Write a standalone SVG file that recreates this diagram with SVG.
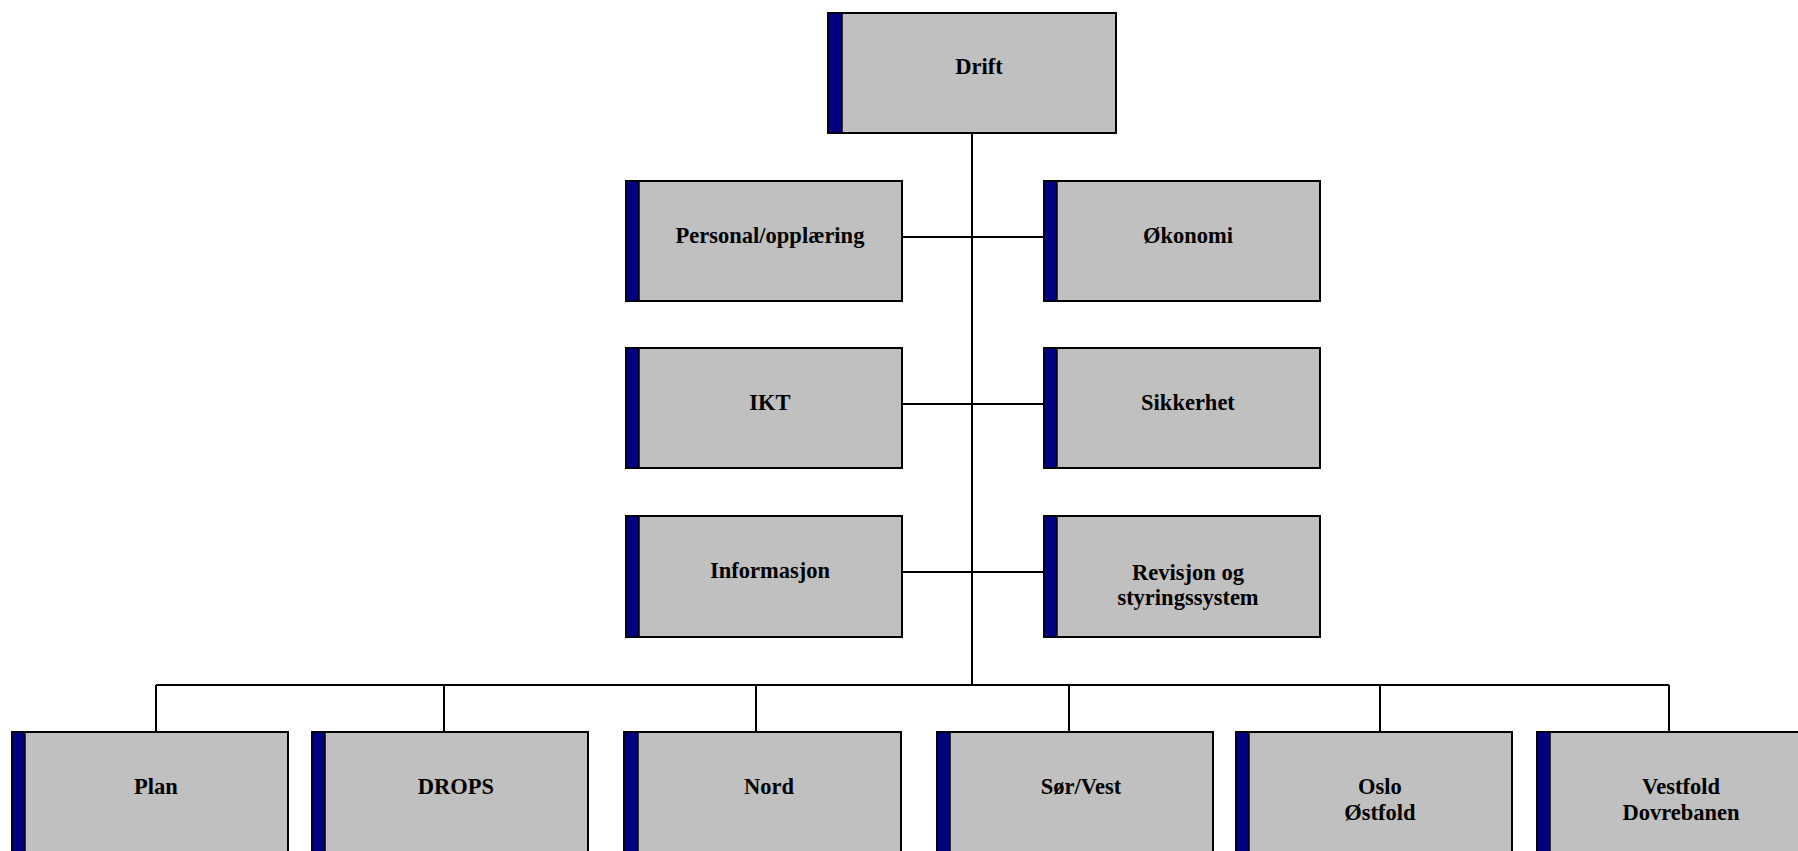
<svg xmlns="http://www.w3.org/2000/svg" width="1798" height="851" viewBox="0 0 1798 851">
  <style>
    .box { fill: #c0c0c0; stroke: #000; stroke-width: 2; }
    .bar { fill: #000080; stroke: #000; stroke-width: 1.5; }
    .lbl { font-family: "Liberation Serif", "Times New Roman", serif; font-weight: bold; font-size: 22.5px; fill: #000; text-anchor: middle; }
    .wire { stroke: #000; stroke-width: 2; fill: none; }
  </style>
  <rect width="1798" height="851" fill="#fff"/>

  <!-- connectors -->
  <g id="connectors" class="wire">
    <line x1="972" y1="133" x2="972" y2="685"/>
    <line x1="902" y1="237" x2="1044" y2="237"/>
    <line x1="902" y1="404" x2="1044" y2="404"/>
    <line x1="902" y1="572" x2="1044" y2="572"/>
    <line x1="156" y1="685" x2="1669" y2="685"/>
    <line x1="156" y1="685" x2="156" y2="732"/>
    <line x1="444" y1="685" x2="444" y2="732"/>
    <line x1="756" y1="685" x2="756" y2="732"/>
    <line x1="1069" y1="685" x2="1069" y2="732"/>
    <line x1="1380" y1="685" x2="1380" y2="732"/>
    <line x1="1669" y1="685" x2="1669" y2="732"/>
  </g>

  <!-- top -->
  <g id="drift">
    <rect class="box" x="828" y="13" width="288" height="120"/>
    <rect class="bar" x="828" y="13" width="14" height="120"/>
    <text class="lbl" x="979" y="74">Drift</text>
  </g>

  <!-- staff units, left column -->
  <g id="personal">
    <rect class="box" x="626" y="181" width="276" height="120"/>
    <rect class="bar" x="626" y="181" width="13" height="120"/>
    <text class="lbl" x="770" y="243">Personal/opplæring</text>
  </g>
  <g id="ikt">
    <rect class="box" x="626" y="348" width="276" height="120"/>
    <rect class="bar" x="626" y="348" width="13" height="120"/>
    <text class="lbl" x="770" y="410">IKT</text>
  </g>
  <g id="informasjon">
    <rect class="box" x="626" y="516" width="276" height="121"/>
    <rect class="bar" x="626" y="516" width="13" height="121"/>
    <text class="lbl" x="770" y="578">Informasjon</text>
  </g>

  <!-- staff units, right column -->
  <g id="okonomi">
    <rect class="box" x="1044" y="181" width="276" height="120"/>
    <rect class="bar" x="1044" y="181" width="13" height="120"/>
    <text class="lbl" x="1188" y="243">Økonomi</text>
  </g>
  <g id="sikkerhet">
    <rect class="box" x="1044" y="348" width="276" height="120"/>
    <rect class="bar" x="1044" y="348" width="13" height="120"/>
    <text class="lbl" x="1188" y="410">Sikkerhet</text>
  </g>
  <g id="revisjon">
    <rect class="box" x="1044" y="516" width="276" height="121"/>
    <rect class="bar" x="1044" y="516" width="13" height="121"/>
    <text class="lbl" x="1188" y="580">Revisjon og</text>
    <text class="lbl" x="1188" y="605">styringssystem</text>
  </g>

  <!-- line units -->
  <g id="plan">
    <rect class="box" x="12" y="732" width="276" height="121"/>
    <rect class="bar" x="12" y="732" width="13" height="121"/>
    <text class="lbl" x="156" y="794">Plan</text>
  </g>
  <g id="drops">
    <rect class="box" x="312" y="732" width="276" height="121"/>
    <rect class="bar" x="312" y="732" width="13" height="121"/>
    <text class="lbl" x="456" y="794">DROPS</text>
  </g>
  <g id="nord">
    <rect class="box" x="624" y="732" width="277" height="121"/>
    <rect class="bar" x="624" y="732" width="14" height="121"/>
    <text class="lbl" x="769" y="794">Nord</text>
  </g>
  <g id="sorvest">
    <rect class="box" x="937" y="732" width="276" height="121"/>
    <rect class="bar" x="937" y="732" width="13" height="121"/>
    <text class="lbl" x="1081" y="794">Sør/Vest</text>
  </g>
  <g id="oslo">
    <rect class="box" x="1236" y="732" width="276" height="121"/>
    <rect class="bar" x="1236" y="732" width="13" height="121"/>
    <text class="lbl" x="1380" y="794">Oslo</text>
    <text class="lbl" x="1380" y="820">Østfold</text>
  </g>
  <g id="vestfold">
    <rect class="box" x="1537" y="732" width="276" height="121"/>
    <rect class="bar" x="1537" y="732" width="13" height="121"/>
    <text class="lbl" x="1681" y="794">Vestfold</text>
    <text class="lbl" x="1681" y="820">Dovrebanen</text>
  </g>
</svg>
